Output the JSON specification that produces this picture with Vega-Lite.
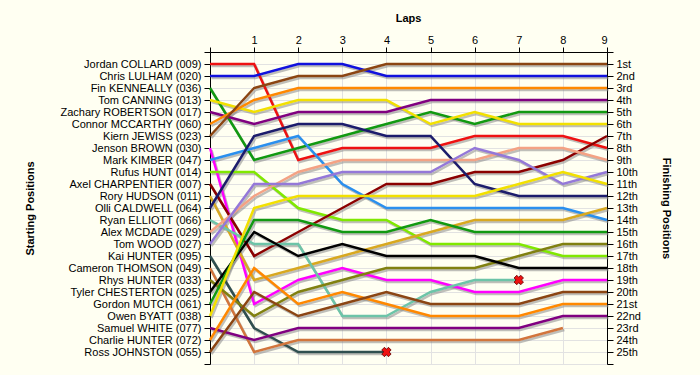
{
  "$schema": "https://vega.github.io/schema/vega-lite/v6.json",
  "width": 397,
  "height": 312,
  "autosize": {"type": "none"},
  "padding": {"left": 210, "top": 52, "right": 93, "bottom": 11},
  "background": "#FFFFF2",
  "config": {
    "view": {"stroke": null, "fill": "#FFFFF2"},
    "font": "Liberation Sans",
    "axis": {"labelFont": "Liberation Sans", "labelFontSize": 11, "labelColor": "#000", "titleFont": "Liberation Sans", "titleFontSize": 11, "titleFontWeight": "bold", "titleColor": "#000", "domainColor": "#000", "tickColor": "#000", "gridColor": "#E2E2E2", "tickSize": 6, "labelPadding": 3}
  },
  "datasets": {
    "laps": [
      {"d": 1, "lap": 0, "pos": 1}, {"d": 1, "lap": 1, "pos": 1}, {"d": 1, "lap": 2, "pos": 9}, {"d": 1, "lap": 3, "pos": 8}, {"d": 1, "lap": 4, "pos": 8}, {"d": 1, "lap": 5, "pos": 8}, {"d": 1, "lap": 6, "pos": 7}, {"d": 1, "lap": 7, "pos": 7}, {"d": 1, "lap": 8, "pos": 7}, {"d": 1, "lap": 9, "pos": 8},
      {"d": 2, "lap": 0, "pos": 2}, {"d": 2, "lap": 1, "pos": 2}, {"d": 2, "lap": 2, "pos": 1}, {"d": 2, "lap": 3, "pos": 1}, {"d": 2, "lap": 4, "pos": 2}, {"d": 2, "lap": 5, "pos": 2}, {"d": 2, "lap": 6, "pos": 2}, {"d": 2, "lap": 7, "pos": 2}, {"d": 2, "lap": 8, "pos": 2}, {"d": 2, "lap": 9, "pos": 2},
      {"d": 3, "lap": 0, "pos": 3}, {"d": 3, "lap": 1, "pos": 9}, {"d": 3, "lap": 2, "pos": 8}, {"d": 3, "lap": 3, "pos": 7}, {"d": 3, "lap": 4, "pos": 6}, {"d": 3, "lap": 5, "pos": 5}, {"d": 3, "lap": 6, "pos": 6}, {"d": 3, "lap": 7, "pos": 5}, {"d": 3, "lap": 8, "pos": 5}, {"d": 3, "lap": 9, "pos": 5},
      {"d": 4, "lap": 0, "pos": 4}, {"d": 4, "lap": 1, "pos": 5}, {"d": 4, "lap": 2, "pos": 4}, {"d": 4, "lap": 3, "pos": 4}, {"d": 4, "lap": 4, "pos": 4}, {"d": 4, "lap": 5, "pos": 6}, {"d": 4, "lap": 6, "pos": 5}, {"d": 4, "lap": 7, "pos": 6}, {"d": 4, "lap": 8, "pos": 6}, {"d": 4, "lap": 9, "pos": 6},
      {"d": 5, "lap": 0, "pos": 5}, {"d": 5, "lap": 1, "pos": 6}, {"d": 5, "lap": 2, "pos": 5}, {"d": 5, "lap": 3, "pos": 5}, {"d": 5, "lap": 4, "pos": 5}, {"d": 5, "lap": 5, "pos": 4}, {"d": 5, "lap": 6, "pos": 4}, {"d": 5, "lap": 7, "pos": 4}, {"d": 5, "lap": 8, "pos": 4}, {"d": 5, "lap": 9, "pos": 4},
      {"d": 6, "lap": 0, "pos": 6}, {"d": 6, "lap": 1, "pos": 4}, {"d": 6, "lap": 2, "pos": 3}, {"d": 6, "lap": 3, "pos": 3}, {"d": 6, "lap": 4, "pos": 3}, {"d": 6, "lap": 5, "pos": 3}, {"d": 6, "lap": 6, "pos": 3}, {"d": 6, "lap": 7, "pos": 3}, {"d": 6, "lap": 8, "pos": 3}, {"d": 6, "lap": 9, "pos": 3},
      {"d": 7, "lap": 0, "pos": 7}, {"d": 7, "lap": 1, "pos": 3}, {"d": 7, "lap": 2, "pos": 2}, {"d": 7, "lap": 3, "pos": 2}, {"d": 7, "lap": 4, "pos": 1}, {"d": 7, "lap": 5, "pos": 1}, {"d": 7, "lap": 6, "pos": 1}, {"d": 7, "lap": 7, "pos": 1}, {"d": 7, "lap": 8, "pos": 1}, {"d": 7, "lap": 9, "pos": 1},
      {"d": 8, "lap": 0, "pos": 8}, {"d": 8, "lap": 1, "pos": 21}, {"d": 8, "lap": 2, "pos": 19}, {"d": 8, "lap": 3, "pos": 18}, {"d": 8, "lap": 4, "pos": 19}, {"d": 8, "lap": 5, "pos": 19}, {"d": 8, "lap": 6, "pos": 20}, {"d": 8, "lap": 7, "pos": 20}, {"d": 8, "lap": 8, "pos": 19}, {"d": 8, "lap": 9, "pos": 19},
      {"d": 9, "lap": 0, "pos": 9}, {"d": 9, "lap": 1, "pos": 8}, {"d": 9, "lap": 2, "pos": 7}, {"d": 9, "lap": 3, "pos": 11}, {"d": 9, "lap": 4, "pos": 13}, {"d": 9, "lap": 5, "pos": 13}, {"d": 9, "lap": 6, "pos": 13}, {"d": 9, "lap": 7, "pos": 13}, {"d": 9, "lap": 8, "pos": 13}, {"d": 9, "lap": 9, "pos": 14},
      {"d": 10, "lap": 0, "pos": 10}, {"d": 10, "lap": 1, "pos": 10}, {"d": 10, "lap": 2, "pos": 13}, {"d": 10, "lap": 3, "pos": 14}, {"d": 10, "lap": 4, "pos": 14}, {"d": 10, "lap": 5, "pos": 16}, {"d": 10, "lap": 6, "pos": 16}, {"d": 10, "lap": 7, "pos": 16}, {"d": 10, "lap": 8, "pos": 17}, {"d": 10, "lap": 9, "pos": 17},
      {"d": 11, "lap": 0, "pos": 11}, {"d": 11, "lap": 1, "pos": 17}, {"d": 11, "lap": 2, "pos": 15}, {"d": 11, "lap": 3, "pos": 13}, {"d": 11, "lap": 4, "pos": 11}, {"d": 11, "lap": 5, "pos": 11}, {"d": 11, "lap": 6, "pos": 10}, {"d": 11, "lap": 7, "pos": 10}, {"d": 11, "lap": 8, "pos": 9}, {"d": 11, "lap": 9, "pos": 7},
      {"d": 12, "lap": 0, "pos": 12}, {"d": 12, "lap": 1, "pos": 19}, {"d": 12, "lap": 2, "pos": 18}, {"d": 12, "lap": 3, "pos": 17}, {"d": 12, "lap": 4, "pos": 16}, {"d": 12, "lap": 5, "pos": 15}, {"d": 12, "lap": 6, "pos": 14}, {"d": 12, "lap": 7, "pos": 14}, {"d": 12, "lap": 8, "pos": 14}, {"d": 12, "lap": 9, "pos": 13},
      {"d": 13, "lap": 0, "pos": 13}, {"d": 13, "lap": 1, "pos": 7}, {"d": 13, "lap": 2, "pos": 6}, {"d": 13, "lap": 3, "pos": 6}, {"d": 13, "lap": 4, "pos": 7}, {"d": 13, "lap": 5, "pos": 7}, {"d": 13, "lap": 6, "pos": 11}, {"d": 13, "lap": 7, "pos": 12}, {"d": 13, "lap": 8, "pos": 12}, {"d": 13, "lap": 9, "pos": 12},
      {"d": 14, "lap": 0, "pos": 14}, {"d": 14, "lap": 1, "pos": 16}, {"d": 14, "lap": 2, "pos": 16}, {"d": 14, "lap": 3, "pos": 22}, {"d": 14, "lap": 4, "pos": 22}, {"d": 14, "lap": 5, "pos": 20}, {"d": 14, "lap": 6, "pos": 19}, {"d": 14, "lap": 7, "pos": 19},
      {"d": 15, "lap": 0, "pos": 15}, {"d": 15, "lap": 1, "pos": 12}, {"d": 15, "lap": 2, "pos": 10}, {"d": 15, "lap": 3, "pos": 9}, {"d": 15, "lap": 4, "pos": 9}, {"d": 15, "lap": 5, "pos": 9}, {"d": 15, "lap": 6, "pos": 9}, {"d": 15, "lap": 7, "pos": 8}, {"d": 15, "lap": 8, "pos": 8}, {"d": 15, "lap": 9, "pos": 9},
      {"d": 16, "lap": 0, "pos": 16}, {"d": 16, "lap": 1, "pos": 11}, {"d": 16, "lap": 2, "pos": 11}, {"d": 16, "lap": 3, "pos": 10}, {"d": 16, "lap": 4, "pos": 10}, {"d": 16, "lap": 5, "pos": 10}, {"d": 16, "lap": 6, "pos": 8}, {"d": 16, "lap": 7, "pos": 9}, {"d": 16, "lap": 8, "pos": 11}, {"d": 16, "lap": 9, "pos": 10},
      {"d": 17, "lap": 0, "pos": 17}, {"d": 17, "lap": 1, "pos": 23}, {"d": 17, "lap": 2, "pos": 25}, {"d": 17, "lap": 3, "pos": 25}, {"d": 17, "lap": 4, "pos": 25},
      {"d": 18, "lap": 0, "pos": 18}, {"d": 18, "lap": 1, "pos": 25}, {"d": 18, "lap": 2, "pos": 24}, {"d": 18, "lap": 3, "pos": 24}, {"d": 18, "lap": 4, "pos": 24}, {"d": 18, "lap": 5, "pos": 24}, {"d": 18, "lap": 6, "pos": 24}, {"d": 18, "lap": 7, "pos": 24}, {"d": 18, "lap": 8, "pos": 23},
      {"d": 19, "lap": 0, "pos": 19}, {"d": 19, "lap": 1, "pos": 22}, {"d": 19, "lap": 2, "pos": 20}, {"d": 19, "lap": 3, "pos": 19}, {"d": 19, "lap": 4, "pos": 18}, {"d": 19, "lap": 5, "pos": 18}, {"d": 19, "lap": 6, "pos": 18}, {"d": 19, "lap": 7, "pos": 17}, {"d": 19, "lap": 8, "pos": 16}, {"d": 19, "lap": 9, "pos": 16},
      {"d": 20, "lap": 0, "pos": 20}, {"d": 20, "lap": 1, "pos": 15}, {"d": 20, "lap": 2, "pos": 17}, {"d": 20, "lap": 3, "pos": 16}, {"d": 20, "lap": 4, "pos": 17}, {"d": 20, "lap": 5, "pos": 17}, {"d": 20, "lap": 6, "pos": 17}, {"d": 20, "lap": 7, "pos": 18}, {"d": 20, "lap": 8, "pos": 18}, {"d": 20, "lap": 9, "pos": 18},
      {"d": 21, "lap": 0, "pos": 21}, {"d": 21, "lap": 1, "pos": 14}, {"d": 21, "lap": 2, "pos": 14}, {"d": 21, "lap": 3, "pos": 15}, {"d": 21, "lap": 4, "pos": 15}, {"d": 21, "lap": 5, "pos": 14}, {"d": 21, "lap": 6, "pos": 15}, {"d": 21, "lap": 7, "pos": 15}, {"d": 21, "lap": 8, "pos": 15}, {"d": 21, "lap": 9, "pos": 15},
      {"d": 22, "lap": 0, "pos": 22}, {"d": 22, "lap": 1, "pos": 13}, {"d": 22, "lap": 2, "pos": 12}, {"d": 22, "lap": 3, "pos": 12}, {"d": 22, "lap": 4, "pos": 12}, {"d": 22, "lap": 5, "pos": 12}, {"d": 22, "lap": 6, "pos": 12}, {"d": 22, "lap": 7, "pos": 11}, {"d": 22, "lap": 8, "pos": 10}, {"d": 22, "lap": 9, "pos": 11},
      {"d": 23, "lap": 0, "pos": 23}, {"d": 23, "lap": 1, "pos": 24}, {"d": 23, "lap": 2, "pos": 23}, {"d": 23, "lap": 3, "pos": 23}, {"d": 23, "lap": 4, "pos": 23}, {"d": 23, "lap": 5, "pos": 23}, {"d": 23, "lap": 6, "pos": 23}, {"d": 23, "lap": 7, "pos": 23}, {"d": 23, "lap": 8, "pos": 22}, {"d": 23, "lap": 9, "pos": 22},
      {"d": 24, "lap": 0, "pos": 24}, {"d": 24, "lap": 1, "pos": 18}, {"d": 24, "lap": 2, "pos": 21}, {"d": 24, "lap": 3, "pos": 20}, {"d": 24, "lap": 4, "pos": 21}, {"d": 24, "lap": 5, "pos": 22}, {"d": 24, "lap": 6, "pos": 22}, {"d": 24, "lap": 7, "pos": 22}, {"d": 24, "lap": 8, "pos": 21}, {"d": 24, "lap": 9, "pos": 21},
      {"d": 25, "lap": 0, "pos": 25}, {"d": 25, "lap": 1, "pos": 20}, {"d": 25, "lap": 2, "pos": 22}, {"d": 25, "lap": 3, "pos": 21}, {"d": 25, "lap": 4, "pos": 20}, {"d": 25, "lap": 5, "pos": 21}, {"d": 25, "lap": 6, "pos": 21}, {"d": 25, "lap": 7, "pos": 21}, {"d": 25, "lap": 8, "pos": 20}, {"d": 25, "lap": 9, "pos": 20}
    ],
    "retired": [
      {"d": 17, "lap": 4, "pos": 25},
      {"d": 14, "lap": 7, "pos": 19}
    ]
  },
  "layer": [
    {
      "data": {"name": "laps"},
      "mark": {"type": "line", "strokeWidth": 2.5, "color": "#8A8A8A", "opacity": 0.55, "xOffset": 1.5, "yOffset": 2},
      "encoding": {
        "x": {"field": "lap", "type": "quantitative", "scale": {"domain": [0, 9], "nice": false, "zero": false}, "axis": {"orient": "top", "values": [0,1,2,3,4,5,6,7,8,9], "labelExpr": "datum.value == 0 ? '' : datum.value", "grid": true, "title": "Laps", "titleX": 198, "titleY": -34, "titleBaseline": "middle", "tickSize": 5, "labelPadding": 2}},
        "y": {"field": "pos", "type": "quantitative", "scale": {"domain": [0, 26], "reverse": true, "nice": false, "zero": false}, "axis": null},
        "detail": {"field": "d"},
        "order": {"field": "lap"}
      }
    },
    {
      "data": {"name": "laps"},
      "mark": {"type": "line", "strokeWidth": 2.5},
      "encoding": {
        "x": {"field": "lap", "type": "quantitative"},
        "y": {"field": "pos", "type": "quantitative", "scale": {"domain": [0, 26], "reverse": true, "nice": false, "zero": false},
          "axis": {"orient": "left", "values": [0,1,2,3,4,5,6,7,8,9,10,11,12,13,14,15,16,17,18,19,20,21,22,23,24,25,26], "grid": true,
            "labelExpr": "['', 'Jordan COLLARD (009)', 'Chris LULHAM (020)', 'Fin KENNEALLY (036)', 'Tom CANNING (013)', 'Zachary ROBERTSON (017)', 'Connor MCCARTHY (060)', 'Kiern JEWISS (023)', 'Jenson BROWN (030)', 'Mark KIMBER (047)', 'Rufus HUNT (014)', 'Axel CHARPENTIER (007)', 'Rory HUDSON (011)', 'Olli CALDWELL (064)', 'Ryan ELLIOTT (066)', 'Alex MCDADE (029)', 'Tom WOOD (027)', 'Kai HUNTER (095)', 'Cameron THOMSON (049)', 'Rhys HUNTER (033)', 'Tyler CHESTERTON (025)', 'Gordon MUTCH (061)', 'Owen BYATT (038)', 'Samuel WHITE (077)', 'Charlie HUNTER (072)', 'Ross JOHNSTON (055)', ''][datum.value]",
            "labelBound": false, "labelOverlap": false, "labelFlush": false,
            "title": "Starting Positions", "titleX": -180, "titleY": 156, "titleAngle": -90, "titleBaseline": "middle", "titleAlign": "center"}},
        "color": {"field": "d", "type": "nominal", "legend": null,
          "scale": {"domain": [1,2,3,4,5,6,7,8,9,10,11,12,13,14,15,16,17,18,19,20,21,22,23,24,25],
            "range": ["#EE1111", "#1111DD", "#119911", "#F2E000", "#800080", "#FF8800", "#8B4513", "#FF00FF", "#2A8FEE", "#80E800", "#8B0000", "#D8A820", "#1C1C6C", "#6CC4A8", "#F4A284", "#9478D8", "#2F4F4F", "#D2753C", "#808010", "#000000", "#119911", "#F2E000", "#800080", "#FF8800", "#8B4513"]}},
        "detail": {"field": "d"},
        "order": {"field": "lap"}
      }
    },
    {
      "data": {"name": "retired"},
      "mark": {"type": "point", "shape": "cross", "angle": 45, "size": 90, "filled": true, "color": "#EE1111", "stroke": "#660000", "strokeWidth": 0.8, "opacity": 1},
      "encoding": {
        "x": {"field": "lap", "type": "quantitative"},
        "y": {"field": "pos", "type": "quantitative", "scale": {"domain": [0, 26], "reverse": true, "nice": false, "zero": false}, "axis": null}
      }
    },
    {
      "data": {"name": "retired"},
      "mark": {"type": "point", "opacity": 0},
      "encoding": {
        "x": {"field": "lap", "type": "quantitative"},
        "y": {"field": "pos", "type": "quantitative", "scale": {"domain": [0, 26], "reverse": true, "nice": false, "zero": false},
          "axis": {"orient": "right", "values": [0,1,2,3,4,5,6,7,8,9,10,11,12,13,14,15,16,17,18,19,20,21,22,23,24,25,26], "grid": false,
            "labelExpr": "['', '1st', '2nd', '3rd', '4th', '5th', '6th', '7th', '8th', '9th', '10th', '11th', '12th', '13th', '14th', '15th', '16th', '17th', '18th', '19th', '20th', '21st', '22nd', '23rd', '24th', '25th', ''][datum.value]",
            "labelBound": false, "labelOverlap": false, "labelFlush": false,
            "title": "Finishing Positions", "titleX": 58, "titleY": 156, "titleAngle": 90, "titleBaseline": "middle", "titleAlign": "center"}}
      }
    }
  ],
  "resolve": {"scale": {"y": "independent"}}
}
